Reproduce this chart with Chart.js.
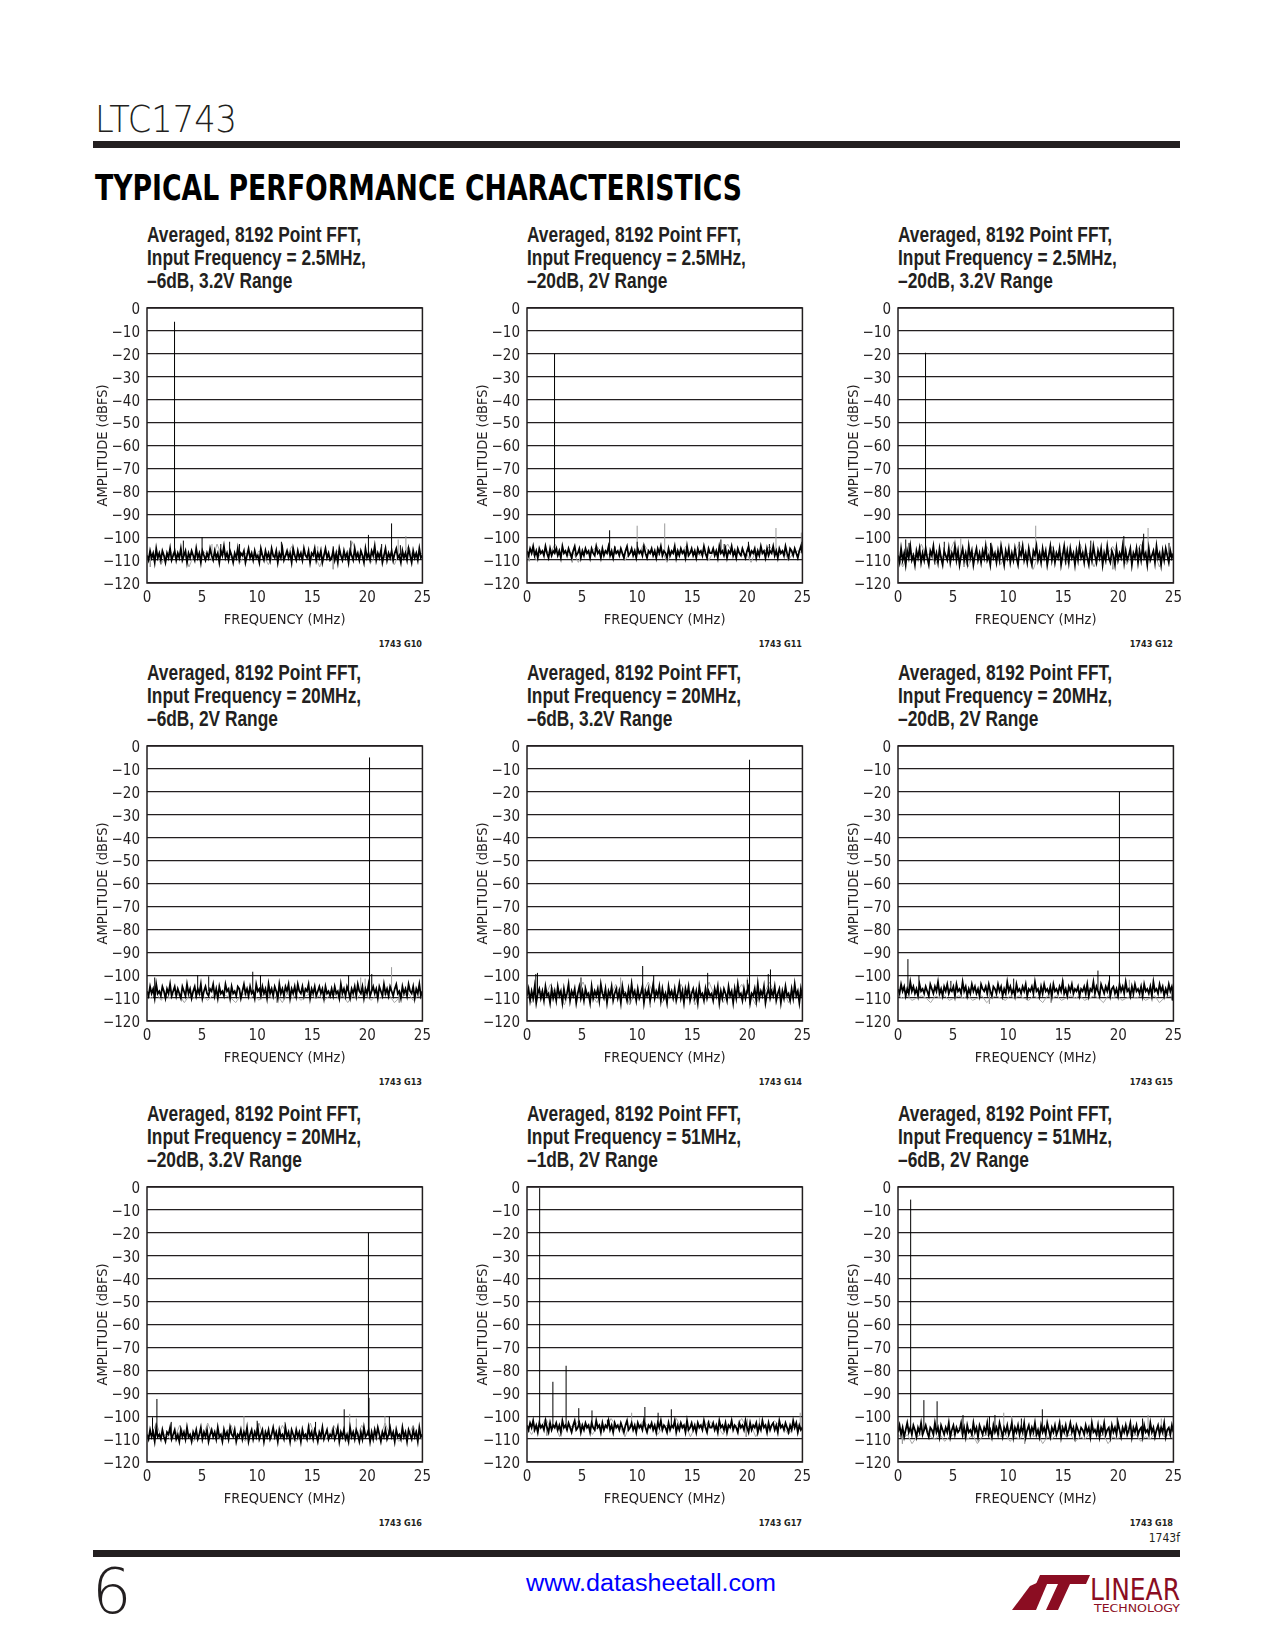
<!DOCTYPE html>
<html>
<head>
<meta charset="utf-8">
<script src="https://cdn.jsdelivr.net/npm/chart.js@4.4.1/dist/chart.umd.min.js"></script>
<style>
  body { margin: 0; background: #fff; }
  #page { position: relative; width: 1275px; height: 1650px; overflow: hidden; }
  #page svg, #page canvas { position: absolute; }
</style>
</head>
<body>
<div id="page">
  <svg id="deco" width="1275" height="1650" style="left:0;top:0"></svg>
</div>
<script>
// axis ticks
const freqTicks = [0, 5, 10, 15, 20, 25];
const ampTicks = [0, -10, -20, -30, -40, -50, -60, -70, -80, -90, -100, -110, -120];

// panel text
const figCodes = ['1743 G10', '1743 G11', '1743 G12', '1743 G13', '1743 G14', '1743 G15', '1743 G16', '1743 G17', '1743 G18'];
const inputFreqs = ['2.5MHz', '2.5MHz', '2.5MHz', '20MHz', '20MHz', '20MHz', '20MHz', '51MHz', '51MHz'];
const conditions = ['–6dB, 3.2V Range', '–20dB, 2V Range', '–20dB, 3.2V Range', '–6dB, 2V Range', '–6dB, 3.2V Range',
  '–20dB, 2V Range', '–20dB, 3.2V Range', '–1dB, 2V Range', '–6dB, 2V Range'];

// noise floor level (dBFS) where spur stems start
const floors = [-108, -106.5, -108, -107, -108, -106.5, -108.5, -104.5, -106.5];

// G10
const g10Noise = [-108,-110,-106,-109,-107,-111,-105,-109,-107,-110,-106,-108,-111,-107,-109,-105,-110,-108,-106,-110,
  -107,-109,-105,-110,-108,-106,-111,-107,-109,-106,-108,-110,-105,-109,-107,-111,-106,-108,-110,-107,
  -109,-105,-108,-110,-106,-109,-107,-111,-106,-108,-104,-109,-107,-110,-106,-108,-111,-107,-109,-105,
  -110,-107,-108,-106,-111,-108,-105,-109,-107,-110,-106,-109,-108,-111,-105,-108,-110,-106,-109,-107,
  -110,-105,-108,-109,-106,-111,-107,-109,-105,-110,-108,-106,-109,-107,-111,-105,-108,-110,-106,-109,
  -107,-110,-105,-108,-109,-106,-111,-107,-108,-105,-110,-107,-109,-106,-111,-108,-105,-109,-107,-110,
  -109,-106,-110,-107,-111,-105,-108,-110,-106,-109,-107,-111,-106,-108,-110,-105,-109,-107,-110,-106,
  -108,-111,-105,-109,-107,-110,-106,-108,-104,-110,-107,-109,-106,-111,-108,-105,-110,-107,-109,-106,
  -110,-107,-105,-109,-108,-111,-106,-109,-107,-110,-105,-108,-111,-106,-109,-107,-110,-105,-109,-108];
const g10Gray = [-108,-109,-107,-112,-108,-106,-109,-108,-107,-113,-108,-109,-106,-108,-110,-103,-108,-107,-109,-108,
  -111,-107,-108,-109,-106,-108,-112,-108,-107,-109,-108,-104,-109,-107,-108,-110,-108,-113,-107,-109,
  -108,-106,-109,-108,-102,-108,-109,-107,-111,-108,-107,-109,-108,-112,-107,-108,-104,-109,-108,-107];
const g10Spurs = [[2.5,-6],[3.3,-101.5],[5.0,-100],[6.7,-103],[7.5,-102],[8.4,-103],[12.2,-102],[16.9,-104],[18.5,-101.5],[20.1,-99],[21.3,-103],[22.2,-94],[23.0,-103.5]];
const g10GraySpurs = [[5.9,-103],[15.5,-104],[22.8,-101],[23.5,-99.5],[0.3,-113],[16.9,-114]];

// G11
const g11Noise = [-106,-108,-105,-107,-104,-108,-106,-109,-105,-107,-106,-108,-104,-107,-109,-105,-108,-106,-107,-105,
  -108,-106,-109,-104,-107,-106,-108,-105,-107,-109,-106,-104,-108,-107,-105,-109,-106,-108,-105,-107,
  -106,-109,-105,-107,-108,-104,-107,-106,-109,-105,-108,-106,-107,-104,-108,-106,-109,-105,-107,-106,
  -108,-105,-107,-109,-106,-104,-108,-107,-105,-108,-106,-109,-105,-107,-106,-108,-104,-107,-109,-106,
  -107,-105,-108,-106,-109,-105,-107,-104,-108,-106,-107,-109,-105,-108,-106,-107,-104,-109,-106,-108,
  -105,-107,-106,-109,-104,-108,-107,-105,-108,-106,-109,-105,-107,-106,-108,-104,-107,-109,-105,-107,
  -107,-105,-108,-106,-109,-104,-107,-106,-108,-105,-109,-106,-107,-104,-108,-106,-109,-105,-107,-108,
  -105,-107,-109,-106,-104,-108,-106,-107,-105,-109,-106,-108,-104,-107,-106,-109,-105,-108,-106,-107,
  -104,-108,-106,-109,-105,-107,-106,-108,-104,-107,-109,-105,-106,-108,-105,-107,-109,-106,-104,-107];
const g11Gray = [-107,-106,-110,-107,-106,-107,-103,-107,-106,-108,-107,-111,-106,-107,-106,-104,-107,-106,-108,-107,
  -106,-110,-107,-106,-107,-103,-106,-107,-108,-106,-111,-107,-106,-107,-104,-107,-106,-108,-107,-110,
  -106,-107,-106,-103,-107,-106,-108,-107,-111,-106,-107,-106,-104,-107,-108,-106,-110,-107,-106,-107];
const g11Spurs = [[2.5,-20],[7.5,-97],[8.0,-104],[10.0,-102],[17.6,-101],[17.9,-103],[20.1,-102],[22.0,-103],[24.95,-102]];
const g11GraySpurs = [[10.0,-95],[12.5,-94],[22.6,-96],[24.9,-98],[4.1,-111],[0.2,-110.5]];

// G12
const g12Noise = [-108,-111,-105,-110,-107,-112,-106,-109,-104,-110,-108,-112,-106,-109,-105,-111,-107,-110,-105,-109,
  -112,-106,-108,-104,-110,-107,-111,-105,-109,-112,-106,-108,-110,-105,-111,-107,-109,-104,-110,-106,
  -112,-108,-105,-110,-107,-111,-104,-109,-106,-112,-108,-105,-110,-107,-111,-106,-109,-104,-110,-108,
  -112,-105,-109,-107,-111,-106,-110,-104,-108,-112,-106,-109,-105,-111,-107,-110,-105,-109,-112,-106,
  -108,-104,-110,-107,-111,-105,-109,-112,-106,-108,-104,-110,-107,-111,-105,-109,-106,-112,-108,-104,
  -110,-106,-111,-107,-109,-105,-112,-108,-104,-110,-106,-111,-105,-109,-107,-112,-106,-110,-104,-109,
  -107,-111,-105,-109,-112,-106,-110,-104,-108,-111,-106,-109,-105,-112,-107,-110,-104,-109,-111,-106,
  -108,-112,-105,-110,-107,-109,-104,-111,-106,-110,-108,-105,-112,-107,-109,-105,-111,-106,-110,-104,
  -109,-107,-112,-105,-110,-108,-106,-111,-104,-109,-107,-112,-106,-110,-105,-108,-111,-106,-109,-107];
const g12Gray = [-108,-113,-108,-107,-109,-103,-108,-107,-112,-108,-109,-107,-102,-108,-109,-113,-107,-108,-109,-104,
  -108,-107,-112,-108,-109,-107,-103,-108,-109,-114,-108,-107,-109,-104,-108,-107,-112,-108,-109,-103,
  -108,-107,-113,-108,-109,-107,-104,-108,-109,-112,-108,-107,-103,-108,-109,-107,-113,-108,-107,-109];
const g12Spurs = [[2.5,-19.5],[0.7,-101],[1.0,-102.5],[4.2,-102],[8.4,-102.5],[11.0,-102],[17.5,-101.5],[20.5,-99.5],[22.3,-98.5],[24.6,-102.5]];
const g12GraySpurs = [[12.5,-95],[5.7,-100.5],[22.7,-96],[19.5,-114],[6.0,-113]];

// G13
const g13Noise = [-107,-109,-105,-108,-106,-110,-104,-108,-107,-109,-105,-107,-110,-106,-108,-104,-109,-107,-105,-109,
  -106,-108,-110,-105,-107,-109,-104,-108,-106,-110,-107,-105,-109,-106,-108,-104,-110,-107,-105,-108,
  -109,-106,-107,-104,-109,-106,-110,-105,-108,-107,-109,-104,-107,-106,-110,-105,-108,-107,-109,-105,
  -106,-110,-107,-104,-108,-106,-109,-105,-108,-107,-110,-104,-107,-106,-109,-105,-108,-106,-110,-104,
  -108,-106,-109,-105,-107,-110,-104,-108,-106,-109,-105,-107,-104,-110,-106,-108,-105,-109,-104,-107,
  -108,-105,-109,-106,-107,-104,-110,-106,-108,-105,-109,-107,-105,-108,-106,-110,-105,-108,-107,-109,
  -106,-109,-105,-108,-107,-110,-104,-108,-106,-109,-105,-107,-110,-106,-108,-105,-109,-104,-107,-108,
  -105,-110,-106,-108,-104,-109,-107,-105,-108,-106,-110,-105,-107,-109,-104,-108,-106,-109,-105,-107,
  -109,-106,-104,-108,-107,-110,-105,-108,-106,-109,-104,-107,-108,-105,-110,-106,-108,-104,-109,-107];
const g13Gray = [-109,-110,-108,-111,-109,-110,-108,-109,-112,-109,-110,-108,-109,-111,-109,-110,-108,-109,-110,-112,
  -109,-108,-110,-109,-111,-108,-109,-110,-109,-112,-108,-110,-109,-111,-109,-108,-110,-109,-111,-109,
  -108,-110,-109,-112,-109,-110,-108,-109,-111,-109,-110,-108,-109,-112,-110,-109,-108,-111,-109,-110];
const g13Spurs = [[20.2,-5],[0.7,-101],[4.6,-100],[5.6,-100.5],[9.6,-98.5],[10.3,-100],[18.3,-100],[20.4,-99.5]];
const g13GraySpurs = [[19.4,-101],[19.8,-101.5],[22.2,-96.5],[11.8,-112],[22.9,-112]];

// G14
const g14Noise = [-109,-106,-111,-107,-110,-105,-112,-108,-106,-110,-107,-111,-105,-109,-108,-112,-106,-110,-107,-111,
  -105,-109,-107,-112,-106,-110,-108,-104,-111,-107,-109,-106,-112,-108,-105,-110,-107,-111,-106,-109,
  -108,-112,-105,-110,-107,-109,-106,-111,-104,-108,-110,-106,-112,-107,-109,-105,-111,-108,-106,-110,
  -107,-112,-105,-109,-108,-111,-106,-110,-104,-109,-107,-111,-106,-110,-108,-105,-112,-107,-109,-106,
  -111,-108,-104,-110,-107,-109,-105,-111,-106,-110,-108,-112,-105,-109,-107,-110,-106,-111,-108,-104,
  -110,-107,-112,-106,-109,-105,-111,-108,-106,-110,-107,-112,-105,-109,-108,-111,-106,-110,-107,-109,
  -108,-111,-106,-109,-105,-112,-107,-110,-106,-108,-111,-105,-109,-107,-112,-106,-110,-104,-109,-108,
  -111,-106,-110,-107,-105,-112,-108,-109,-106,-111,-104,-110,-107,-109,-105,-112,-108,-106,-110,-107,
  -109,-105,-111,-108,-106,-112,-107,-110,-105,-109,-108,-111,-106,-110,-104,-109,-107,-112,-106,-110];
const g14Gray = [-108,-112,-108,-107,-109,-104,-108,-107,-113,-108,-109,-107,-103,-108,-109,-112,-107,-108,-109,-104,
  -108,-107,-113,-108,-109,-107,-103,-108,-109,-112,-108,-107,-109,-104,-108,-107,-113,-108,-109,-103,
  -108,-107,-112,-108,-109,-107,-104,-108,-109,-113,-108,-107,-103,-108,-109,-107,-112,-108,-107,-109];
const g14Spurs = [[20.2,-6],[0.8,-99.5],[0.95,-99],[4.9,-101],[10.5,-96],[11.5,-100],[16.4,-99],[21.9,-99.5],[22.1,-97.5],[20.0,-102]];
const g14GraySpurs = [[8.5,-101],[9.5,-101.5],[20.0,-101],[11.2,-114],[20.2,-113]];

// G15
const g15Noise = [-106,-108,-104,-107,-105,-109,-106,-108,-103,-107,-105,-108,-106,-109,-104,-107,-106,-108,-105,-107,
  -109,-104,-106,-108,-105,-107,-103,-108,-106,-109,-105,-107,-104,-108,-106,-107,-105,-109,-104,-107,
  -106,-108,-103,-107,-105,-109,-106,-108,-104,-107,-105,-108,-106,-109,-104,-106,-107,-105,-108,-104,
  -107,-109,-105,-106,-108,-104,-107,-105,-109,-106,-108,-103,-107,-105,-108,-106,-109,-104,-107,-106,
  -108,-105,-107,-104,-109,-106,-107,-105,-108,-103,-107,-106,-109,-105,-108,-104,-107,-106,-108,-105,
  -109,-104,-107,-106,-108,-105,-107,-103,-108,-106,-109,-105,-107,-104,-108,-106,-107,-105,-109,-106,
  -107,-105,-108,-104,-109,-106,-107,-103,-108,-105,-107,-109,-104,-106,-108,-105,-107,-104,-109,-106,
  -105,-108,-106,-109,-104,-107,-105,-108,-103,-107,-106,-109,-105,-108,-104,-107,-106,-108,-105,-109,
  -104,-107,-106,-108,-105,-109,-103,-107,-106,-108,-104,-107,-105,-109,-106,-108,-104,-107,-105,-108];
const g15Gray = [-109,-110,-109,-111,-110,-109,-110,-112,-109,-110,-109,-111,-110,-109,-110,-109,-111,-110,-109,-112,
  -110,-109,-110,-111,-109,-110,-109,-110,-111,-109,-110,-112,-109,-110,-109,-111,-110,-109,-110,-109,
  -111,-110,-109,-110,-112,-109,-110,-109,-111,-110,-109,-110,-109,-111,-110,-109,-112,-110,-109,-110];
const g15Spurs = [[20.1,-20],[0.9,-93],[1.9,-100],[4.8,-102.5],[10.5,-101.5],[18.15,-98],[19.2,-100],[24.9,-111]];
const g15GraySpurs = [[21.0,-102],[15.0,-102],[8.3,-112.5],[13.9,-112]];

// G16
const g16Noise = [-108,-110,-106,-109,-107,-111,-105,-109,-108,-110,-106,-109,-111,-107,-108,-105,-110,-108,-106,-110,
  -108,-111,-106,-109,-107,-110,-105,-109,-108,-111,-107,-109,-106,-110,-108,-105,-110,-107,-109,-106,
  -111,-108,-106,-109,-107,-110,-105,-109,-108,-111,-106,-109,-107,-110,-105,-108,-109,-106,-111,-108,
  -109,-106,-110,-107,-109,-105,-111,-108,-106,-110,-107,-109,-105,-110,-108,-106,-111,-107,-109,-106,
  -110,-108,-105,-109,-107,-111,-106,-109,-108,-110,-105,-109,-107,-111,-106,-108,-110,-106,-109,-107,
  -111,-106,-109,-108,-110,-105,-109,-107,-110,-106,-108,-111,-107,-109,-105,-110,-108,-106,-110,-108,
  -109,-106,-110,-108,-105,-111,-107,-109,-106,-110,-108,-111,-105,-109,-107,-110,-106,-108,-111,-107,
  -110,-105,-109,-108,-106,-111,-107,-110,-106,-109,-105,-108,-111,-107,-109,-106,-110,-108,-105,-109,
  -107,-111,-106,-109,-108,-110,-105,-109,-107,-111,-106,-108,-110,-106,-109,-107,-111,-105,-109,-108];
const g16Gray = [-109,-108,-103,-109,-108,-110,-109,-104,-108,-109,-111,-108,-109,-103,-108,-109,-110,-108,-104,-109,
  -108,-111,-109,-108,-103,-109,-108,-110,-109,-104,-108,-109,-111,-108,-109,-103,-109,-108,-110,-109,
  -104,-108,-109,-111,-108,-109,-104,-108,-109,-110,-109,-103,-108,-109,-111,-108,-109,-104,-109,-110];
const g16Spurs = [[20.1,-20],[20.15,-92],[0.5,-100.5],[0.9,-92.5],[2.2,-102.5],[10.0,-102],[15.3,-102.5],[17.9,-97],[22.0,-100]];
const g16GraySpurs = [[8.8,-100],[18.4,-99],[19.0,-101],[21.6,-100],[12.5,-102.5]];

// G17
const g17Noise = [-104,-106,-103,-105,-102,-106,-104,-107,-103,-105,-104,-106,-102,-105,-107,-103,-106,-104,-105,-103,
  -106,-104,-107,-102,-105,-104,-106,-103,-105,-107,-104,-102,-106,-105,-103,-107,-104,-106,-103,-105,
  -104,-107,-103,-105,-106,-102,-105,-104,-107,-103,-106,-104,-105,-102,-106,-104,-107,-103,-105,-104,
  -106,-103,-105,-107,-104,-102,-106,-105,-103,-106,-104,-107,-103,-105,-104,-106,-102,-105,-107,-104,
  -105,-103,-106,-104,-107,-103,-105,-102,-106,-104,-105,-107,-103,-106,-104,-105,-102,-107,-104,-106,
  -103,-105,-104,-107,-102,-106,-105,-103,-106,-104,-107,-103,-105,-104,-106,-102,-105,-107,-103,-105,
  -105,-103,-106,-104,-107,-102,-105,-104,-106,-103,-107,-104,-105,-102,-106,-104,-105,-107,-103,-105,
  -104,-106,-102,-105,-107,-103,-106,-104,-105,-103,-107,-104,-106,-102,-105,-104,-107,-103,-106,-104,
  -103,-106,-104,-107,-102,-105,-104,-106,-103,-105,-107,-104,-106,-102,-105,-103,-107,-104,-106,-105];
const g17Gray = [-105,-108,-104,-105,-101,-105,-104,-109,-105,-104,-105,-102,-105,-104,-108,-105,-104,-105,-101,-104,
  -105,-109,-104,-105,-104,-102,-105,-104,-108,-105,-104,-105,-101,-105,-104,-109,-105,-104,-105,-102,
  -104,-105,-108,-104,-105,-104,-101,-105,-104,-109,-105,-104,-105,-102,-104,-105,-108,-105,-104,-105];
const g17Spurs = [[1.15,-0.5],[2.35,-85],[3.55,-78],[4.7,-96.5],[5.9,-97.5],[10.7,-96],[11.9,-98.5],[13.1,-97],[7.3,-101.5]];
const g17GraySpurs = [[9.5,-98.5],[20.0,-101],[24.8,-98.5],[21.1,-100.5],[19.9,-109],[1.8,-108.5]];

// G18
const g18Noise = [-107,-104,-108,-105,-109,-106,-103,-107,-105,-108,-104,-106,-109,-105,-107,-103,-108,-106,-104,-107,
  -109,-105,-106,-108,-103,-107,-105,-109,-104,-106,-108,-105,-107,-103,-109,-106,-104,-108,-105,-107,
  -106,-103,-108,-105,-109,-104,-107,-106,-108,-103,-107,-105,-109,-104,-106,-108,-105,-107,-103,-108,
  -106,-109,-104,-107,-105,-108,-103,-106,-109,-105,-107,-104,-108,-106,-103,-109,-105,-107,-104,-108,
  -105,-107,-103,-109,-106,-104,-108,-105,-107,-103,-108,-106,-109,-104,-107,-105,-108,-103,-106,-109,
  -105,-107,-104,-108,-106,-103,-109,-105,-107,-104,-108,-106,-103,-107,-105,-109,-104,-106,-108,-105,
  -106,-108,-104,-107,-105,-109,-103,-107,-106,-108,-104,-109,-105,-107,-103,-108,-106,-105,-109,-104,
  -107,-105,-108,-103,-106,-109,-105,-107,-104,-108,-106,-103,-109,-105,-107,-104,-108,-106,-105,-109,
  -104,-107,-106,-108,-103,-107,-105,-109,-106,-104,-108,-105,-107,-103,-109,-106,-105,-108,-104,-107];
const g18Gray = [-108,-110,-108,-112,-109,-108,-104,-109,-110,-108,-111,-109,-108,-105,-109,-110,-108,-112,-109,-108,
  -110,-104,-109,-108,-111,-109,-110,-108,-105,-109,-108,-112,-109,-110,-108,-104,-109,-108,-111,-109,
  -110,-108,-105,-109,-108,-112,-109,-110,-108,-104,-109,-108,-111,-109,-110,-108,-105,-109,-108,-110];
const g18Spurs = [[1.15,-5.5],[2.35,-93],[3.55,-93.5],[5.9,-99.5],[8.3,-100],[8.8,-99.5],[11.2,-101],[13.1,-97],[19.9,-100.5],[22.2,-101]];
const g18GraySpurs = [[9.6,-98.5],[10.3,-100],[22.7,-99.5],[23.9,-101],[0.4,-112],[11.5,-112]];

const noiseSets = [g10Noise, g11Noise, g12Noise, g13Noise, g14Noise, g15Noise, g16Noise, g17Noise, g18Noise];
const graySets = [g10Gray, g11Gray, g12Gray, g13Gray, g14Gray, g15Gray, g16Gray, g17Gray, g18Gray];
const spurSets = [g10Spurs, g11Spurs, g12Spurs, g13Spurs, g14Spurs, g15Spurs, g16Spurs, g17Spurs, g18Spurs];
const graySpurSets = [g10GraySpurs, g11GraySpurs, g12GraySpurs, g13GraySpurs, g14GraySpurs, g15GraySpurs, g16GraySpurs, g17GraySpurs, g18GraySpurs];

// page layout
const plotLefts = [147, 527, 898];
const plotTops = [308, 746, 1187];
const plotSize = 275;
const ink = '#231f20';
const narrow = "'DejaVu Sans Condensed', 'Liberation Sans Narrow', sans-serif";

Chart.defaults.font.family = narrow;
Chart.defaults.color = ink;

const frame = {
  id: 'frame',
  afterDraw(chart) {
    const a = chart.chartArea, c = chart.ctx;
    c.save();
    c.strokeStyle = ink;
    c.lineWidth = 1.5;
    c.strokeRect(a.left, a.top, a.right - a.left, a.bottom - a.top);
    c.restore();
  }
};

function trace(vals) {
  return vals.map((v, i) => ({x: i * 25 / (vals.length - 1), y: v}));
}

function stems(list, base) {
  const pts = [];
  list.forEach(([f, lvl]) => {
    pts.push({x: f, y: base}, {x: f, y: lvl}, {x: f, y: null});
  });
  return pts;
}

// static text, rules and logo
const svgNS = 'http://www.w3.org/2000/svg';
const deco = document.getElementById('deco');
const meas = document.createElement('canvas').getContext('2d');
function svgText(str, attrs) {
  const t = document.createElementNS(svgNS, 'text');
  for (const k in attrs) t.setAttribute(k, attrs[k]);
  t.textContent = str;
  deco.appendChild(t);
  return t;
}
function svgEl(tag, attrs) {
  const e = document.createElementNS(svgNS, tag);
  for (const k in attrs) e.setAttribute(k, attrs[k]);
  deco.appendChild(e);
  return e;
}

svgText('LTC1743', {x: 95, y: 132, 'font-family': "'DejaVu Sans'", 'font-weight': 200, 'font-size': 37, fill: ink, textLength: 142, lengthAdjust: 'spacingAndGlyphs'});
svgEl('rect', {x: 93, y: 141, width: 1087, height: 7, fill: ink});
svgText('TYPICAL PERFORMANCE CHARACTERISTICS', {x: 95, y: 200, 'font-family': "'DejaVu Sans Condensed', 'DejaVu Sans'", 'font-weight': 'bold', 'font-size': 35, fill: '#000', textLength: 647, lengthAdjust: 'spacingAndGlyphs'});

svgText('1743f', {x: 1180, y: 1542, 'font-family': narrow, 'font-size': 12, fill: ink, 'text-anchor': 'end'});
svgEl('rect', {x: 93, y: 1550, width: 1087, height: 7, fill: ink});
svgText('6', {x: 92, y: 1613, 'font-family': "'DejaVu Sans'", 'font-weight': 200, 'font-size': 62, fill: ink});
svgText('www.datasheetall.com', {x: 526, y: 1591, 'font-family': "'Liberation Sans', Arial, sans-serif", 'font-size': 23, fill: '#0000ff', textLength: 250, lengthAdjust: 'spacingAndGlyphs'});
// Linear Technology logo
svgEl('path', {d: 'M1030 1586 L1050 1577 L1036 1610 L1012 1610 Z', fill: '#8b0d22'});
svgEl('path', {d: 'M1040 1575 L1090 1575 L1086 1584 L1070 1584 L1058 1610 L1046 1610 L1058 1584 L1036 1584 Z', fill: '#8b0d22'});
svgText('LINEAR', {x: 1090, y: 1600, 'font-family': narrow, 'font-size': 30, fill: '#8b0d22', textLength: 90, lengthAdjust: 'spacingAndGlyphs'});
svgText('TECHNOLOGY', {x: 1094, y: 1612, 'font-family': narrow, 'font-size': 10, fill: '#8b0d22', textLength: 86, lengthAdjust: 'spacingAndGlyphs'});

// condensed bold titles: Arial-metric bold squeezed so the first line is 214px wide
const titleFont = "'Liberation Sans', Arial, sans-serif";
meas.font = 'bold 21.5px ' + titleFont;
const squeeze = 214 / meas.measureText('Averaged, 8192 Point FFT,').width;

const page = document.getElementById('page');

function makeConfig(i) {
  return {
    type: 'line',
    data: {
      datasets: [
        {data: stems(spurSets[i], floors[i]), borderColor: '#000', borderWidth: 1},
        {data: trace(noiseSets[i]), borderColor: '#000', borderWidth: 1.8},
        {data: stems(graySpurSets[i], floors[i]), borderColor: '#9a9a9a', borderWidth: 1},
        {data: trace(graySets[i]), borderColor: '#a8a8a8', borderWidth: 1}
      ]
    },
    options: {
      responsive: false,
      maintainAspectRatio: false,
      animation: false,
      devicePixelRatio: 1,
      spanGaps: false,
      layout: {padding: {top: 10, right: 12, left: 0, bottom: 0}},
      elements: {point: {radius: 0}, line: {tension: 0}},
      plugins: {legend: {display: false}, tooltip: {enabled: false}},
      scales: {
        x: {
          type: 'linear', min: 0, max: 25,
          afterBuildTicks: s => { s.ticks = freqTicks.map(v => ({value: v})); },
          afterFit: s => { s.height = 48; },
          ticks: {padding: 6, font: {size: 15}, color: ink, maxRotation: 0},
          grid: {display: false, drawTicks: false},
          border: {display: false},
          title: {display: true, text: 'FREQUENCY (MHz)', font: {size: 14.5}, color: ink, padding: {top: 0, bottom: 2}}
        },
        y: {
          min: -120, max: 0,
          afterBuildTicks: s => { s.ticks = ampTicks.map(v => ({value: v})); },
          afterFit: s => { s.width = 58; },
          ticks: {padding: 7, labelOffset: 2, font: {size: 15}, color: ink, callback: v => v === 0 ? '0' : '−' + Math.abs(v)},
          grid: {color: ink, lineWidth: 1.2, drawTicks: false},
          border: {display: false},
          title: {display: true, text: 'AMPLITUDE (dBFS)', font: {size: 14.5}, color: ink, padding: {top: 6, bottom: 0}}
        }
      }
    },
    plugins: [frame]
  };
}

figCodes.forEach((code, i) => {
  const left = plotLefts[i % 3];
  const top = plotTops[Math.floor(i / 3)];

  // three-line panel title
  const lines = ['Averaged, 8192 Point FFT,', 'Input Frequency = ' + inputFreqs[i] + ',', conditions[i]];
  lines.forEach((ln, k) => {
    svgText(ln, {x: left, y: top - 66 + k * 23, 'font-family': titleFont, 'font-weight': 'bold', 'font-size': 21.5, fill: ink,
      textLength: (meas.measureText(ln).width * squeeze).toFixed(1), lengthAdjust: 'spacingAndGlyphs'});
  });
  svgText(code, {x: left + plotSize, y: top + 339, 'font-family': narrow, 'font-weight': 'bold', 'font-size': 9, fill: ink, 'text-anchor': 'end'});

  // first pass measures where Chart.js puts the plot area, second pass places it exactly
  const cv = document.createElement('canvas');
  cv.width = 58 + plotSize + 12;
  cv.height = 10 + plotSize + 48;
  page.appendChild(cv);
  let chart = new Chart(cv, makeConfig(i));
  const a = chart.chartArea;
  const w = cv.width + plotSize - (a.right - a.left);
  const h = cv.height + plotSize - (a.bottom - a.top);
  const offL = a.left, offT = a.top;
  chart.destroy();
  cv.width = Math.round(w);
  cv.height = Math.round(h);
  cv.style.left = Math.round(left - offL) + 'px';
  cv.style.top = Math.round(top - offT) + 'px';
  chart = new Chart(cv, makeConfig(i));
});
</script>
</body>
</html>
